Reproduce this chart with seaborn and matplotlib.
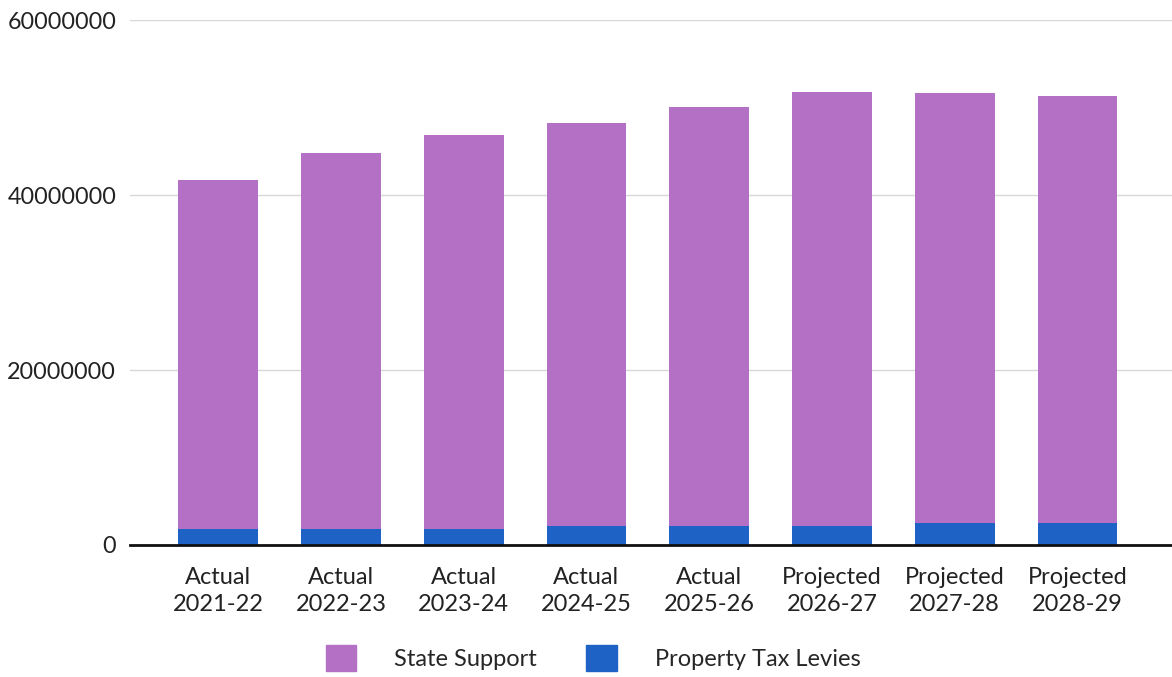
import matplotlib
matplotlib.use("Agg")
import matplotlib.pyplot as plt
import matplotlib.patches as mpatches
import seaborn as sns
import numpy as np
import pandas as pd

# values
years = ["Actual\n2021-22", "Actual\n2022-23", "Actual\n2023-24", "Actual\n2024-25",
         "Actual\n2025-26", "Projected\n2026-27", "Projected\n2027-28", "Projected\n2028-29"]
state_support = [39900000, 43000000, 45100000, 46000000, 47900000, 49600000, 49150000, 48850000]
property_tax = [1800000, 1800000, 1800000, 2200000, 2200000, 2200000, 2550000, 2550000]
yticks = [0, 20000000, 40000000, 60000000]

purple = "#B370C4"
blue = "#1F62C6"

sns.set_theme(style="white")
plt.rcParams['font.family'] = ['Lato', 'DejaVu Sans']

df = pd.DataFrame({"year": years, "state": state_support, "tax": property_tax})
df["total"] = df["state"] + df["tax"]

fig, ax = plt.subplots(figsize=(11.72, 6.77), dpi=100)
fig.subplots_adjust(left=0.111, right=1.0, top=0.97, bottom=0.195)

# stacked: total in purple, then tax drawn over the bottom part
sns.barplot(data=df, x="year", y="total", color=purple, width=0.65, ax=ax,
            saturation=1, linewidth=0, zorder=3)
sns.barplot(data=df, x="year", y="tax", color=blue, width=0.65, ax=ax,
            saturation=1, linewidth=0, zorder=4)

ax.set_ylim(0, 60000000)
ax.set_xlim(-0.717, 7.77)
ax.set_yticks(yticks)
ax.set_yticklabels([str(v) for v in yticks], fontsize=16.8, color="#222222")
ax.tick_params(axis="x", labelsize=17, colors="#222222", length=0, pad=16)
ax.tick_params(axis="y", length=0, pad=10)
for lab in ax.get_xticklabels():
    lab.set_linespacing(1.35)
ax.set_xlabel("")
ax.set_ylabel("")
ax.yaxis.grid(True, color="#d8d8d8", linewidth=1.0, zorder=0)
for s in ["left", "right", "top"]:
    ax.spines[s].set_visible(False)
ax.spines["bottom"].set_color("#111111")
ax.spines["bottom"].set_linewidth(2)
ax.spines["bottom"].set_zorder(5)

handles = [mpatches.Patch(color=purple, label="State Support"),
           mpatches.Patch(color=blue, label="Property Tax Levies")]
fig.legend(handles=handles, loc="lower center", bbox_to_anchor=(0.506, -0.022), ncol=2,
           frameon=False, fontsize=17, handlelength=1.3, handleheight=1.3,
           columnspacing=2.1, handletextpad=1.6)

plt.savefig("out.png", dpi=100)
